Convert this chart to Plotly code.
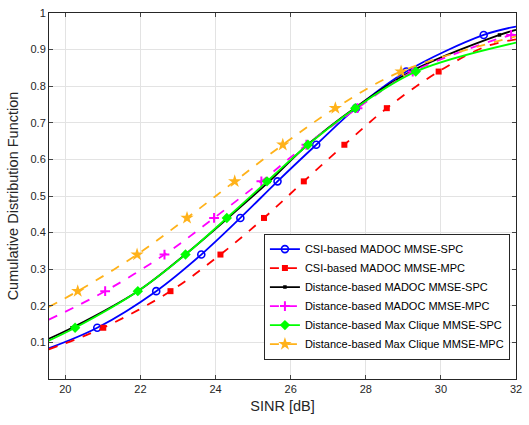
import plotly.graph_objects as go

# ---- CSI-based MADOC MMSE-SPC (blue, solid, circles)
blue_x = [19.56, 20.85, 22.42, 23.62, 24.66, 25.65, 26.68, 27.74, 29.08, 31.14, 32.0]
blue_y = [0.084, 0.14, 0.24, 0.34, 0.44, 0.54, 0.64, 0.74, 0.84, 0.94, 0.963]
blue_mx = [20.85, 22.42, 23.62, 24.66, 25.65, 26.68, 27.74, 29.08, 31.14]
blue_my = [0.14, 0.24, 0.34, 0.44, 0.54, 0.64, 0.74, 0.84, 0.94]

# ---- CSI-based MADOC MMSE-MPC (red, dashed, squares)
red_x = [19.56, 21.01, 22.80, 24.13, 25.29, 26.35, 27.43, 28.56, 29.94, 31.16, 32.0]
red_y = [0.081, 0.14, 0.24, 0.34, 0.44, 0.54, 0.64, 0.74, 0.84, 0.907, 0.928]
red_mx = [21.01, 22.80, 24.13, 25.29, 26.35, 27.43, 28.56, 29.94]
red_my = [0.14, 0.24, 0.34, 0.44, 0.54, 0.64, 0.74, 0.84]

# ---- Distance-based MADOC MMSE-SPC (black, solid, points)
black_x = [19.56, 20.18, 21.93, 23.19, 24.33, 25.43, 26.45, 27.70, 29.20, 31.56, 32.0]
black_y = [0.110, 0.14, 0.24, 0.34, 0.44, 0.54, 0.64, 0.74, 0.84, 0.94, 0.954]
black_mx = [20.18, 21.93, 23.19, 24.33, 25.43, 26.45, 27.70, 29.20, 31.56]
black_my = [0.14, 0.24, 0.34, 0.44, 0.54, 0.64, 0.74, 0.84, 0.94]

# ---- Distance-based MADOC MMSE-MPC (magenta, dashed, plus)
mag_x = [19.56, 21.06, 22.64, 23.96, 25.22, 26.42, 27.78, 29.25, 31.87, 32.0]
mag_y = [0.162, 0.24, 0.34, 0.44, 0.54, 0.64, 0.74, 0.84, 0.94, 0.942]
mag_mx = [21.06, 22.64, 23.96, 25.22, 26.42, 27.78, 29.25, 31.87]
mag_my = [0.24, 0.34, 0.44, 0.54, 0.64, 0.74, 0.84, 0.94]

# ---- Distance-based Max Clique MMSE-SPC (green, solid, diamonds)
green_x = [19.56, 20.26, 21.93, 23.20, 24.30, 25.37, 26.46, 27.72, 29.33, 32.0]
green_y = [0.105, 0.14, 0.24, 0.34, 0.44, 0.54, 0.64, 0.74, 0.84, 0.919]
green_mx = [20.26, 21.93, 23.20, 24.30, 25.37, 26.46, 27.72, 29.33]
green_my = [0.14, 0.24, 0.34, 0.44, 0.54, 0.64, 0.74, 0.84]

# ---- Distance-based Max Clique MMSE-MPC (orange, dashed, stars)
orange_x = [19.56, 20.33, 21.91, 23.24, 24.51, 25.79, 27.19, 28.94, 32.0]
orange_y = [0.197, 0.24, 0.34, 0.44, 0.54, 0.64, 0.74, 0.84, 0.936]
orange_mx = [20.33, 21.91, 23.24, 24.51, 25.79, 27.19, 28.94]
orange_my = [0.24, 0.34, 0.44, 0.54, 0.64, 0.74, 0.84]

x_ticks = [20, 22, 24, 26, 28, 30, 32]
y_ticks = [0.1, 0.2, 0.3, 0.4, 0.5, 0.6, 0.7, 0.8, 0.9, 1]
y_tick_text = ["0.1", "0.2", "0.3", "0.4", "0.5", "0.6", "0.7", "0.8", "0.9", "1"]

BLUE, RED, BLACK, MAG, GREEN, ORANGE = "#0000FF", "#FF0000", "#000000", "#FF00FF", "#00FF00", "#FFB21A"

series = [
    ("CSI-based MADOC MMSE-SPC", blue_x, blue_y, blue_mx, blue_my, BLUE, "solid",
     dict(symbol="circle-open", size=7, color=BLUE, line=dict(width=1.6, color=BLUE))),
    ("CSI-based MADOC MMSE-MPC", red_x, red_y, red_mx, red_my, RED, "dash",
     dict(symbol="square", size=6, color=RED, line=dict(width=0))),
    ("Distance-based MADOC MMSE-SPC", black_x, black_y, black_mx, black_my, BLACK, "solid",
     dict(symbol="square", size=3.5, color=BLACK, line=dict(width=0))),
    ("Distance-based MADOC MMSE-MPC", mag_x, mag_y, mag_mx, mag_my, MAG, "dash",
     dict(symbol="cross-thin-open", size=7, color=MAG, line=dict(width=2, color=MAG))),
    ("Distance-based Max Clique MMSE-SPC", green_x, green_y, green_mx, green_my, GREEN, "solid",
     dict(symbol="diamond", size=8, color=GREEN, line=dict(width=0))),
    ("Distance-based Max Clique MMSE-MPC", orange_x, orange_y, orange_mx, orange_my, ORANGE, "dash",
     dict(symbol="star", size=10, color=ORANGE, line=dict(width=0))),
]

fig = go.Figure()
for name, lx, ly, mx, my, col, dash, mk in series:
    fig.add_trace(go.Scatter(x=lx, y=ly, mode="lines", line=dict(color=col, width=1.8, dash=dash, shape="spline"),
                             showlegend=False, hoverinfo="skip"))
    fig.add_trace(go.Scatter(x=mx, y=my, mode="markers", marker=mk, showlegend=False))
    fig.add_trace(go.Scatter(x=[None], y=[None], mode="lines+markers", name=name,
                             line=dict(color=col, width=1.8, dash=dash), marker=mk))

axis_col = "#262626"
fig.update_layout(
    width=529, height=425,
    margin=dict(l=49, r=9, t=7, b=46),
    paper_bgcolor="white", plot_bgcolor="white",
    font=dict(family="Liberation Sans, Arial, sans-serif", color=axis_col, size=11),
    legend=dict(x=0.987, y=0.053, xanchor="right", yanchor="bottom",
                bgcolor="white", bordercolor=axis_col, borderwidth=1,
                font=dict(size=11, color="#000000"), tracegroupgap=0),
)
fig.update_xaxes(range=[19.565, 32], tickvals=x_ticks, ticks="inside", ticklen=4,
                 showline=True, linecolor=axis_col, linewidth=1, mirror="ticks",
                 showgrid=True, gridcolor="#E3E3E3", gridwidth=1, zeroline=False,
                 ticklabeloverflow="allow",
                 tickfont=dict(size=11, color=axis_col),
                 title=dict(text="SINR [dB]", font=dict(size=14.5, color=axis_col), standoff=6))
fig.update_yaxes(range=[0, 1], tickvals=y_ticks, ticktext=y_tick_text, ticks="inside", ticklen=4,
                 showline=True, linecolor=axis_col, linewidth=1, mirror="ticks",
                 showgrid=True, gridcolor="#E3E3E3", gridwidth=1, zeroline=False,
                 tickfont=dict(size=11, color=axis_col),
                 title=dict(text="Cumulative Distribution Function", font=dict(size=14.5, color=axis_col), standoff=8))

fig.write_html("out.html", config={"displayModeBar": False},
               post_script="document.body.style.margin='0';")
